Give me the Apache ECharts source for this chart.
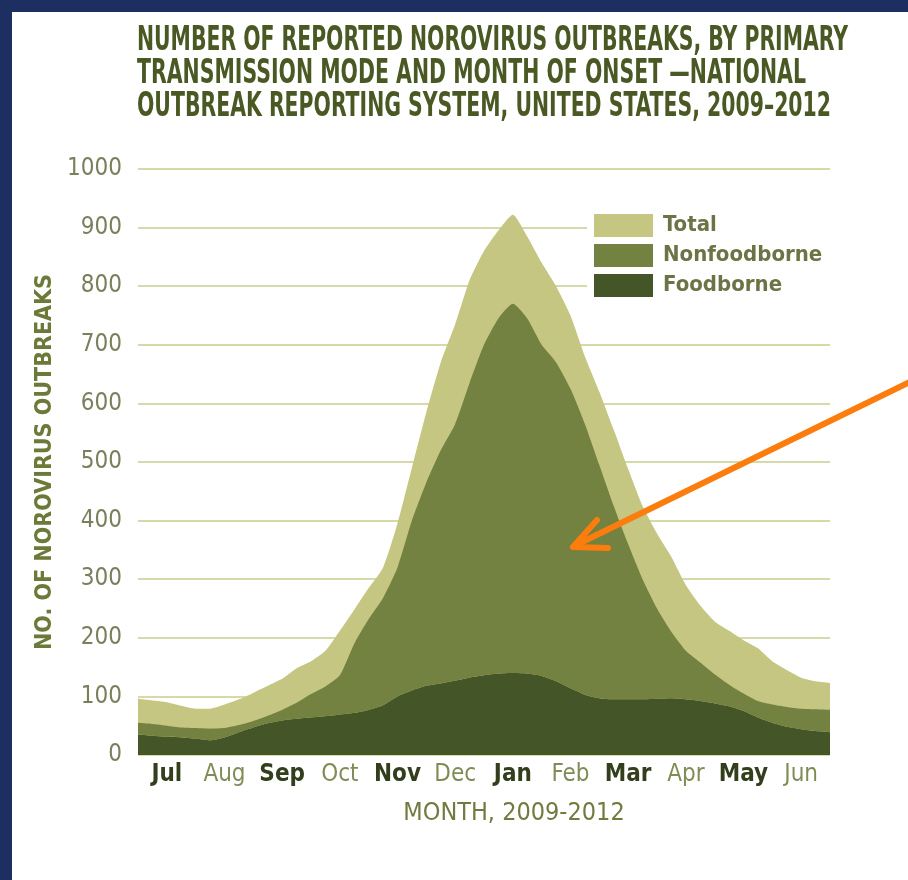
<!DOCTYPE html>
<html>
<head>
<meta charset="utf-8">
<script src="https://cdn.jsdelivr.net/npm/echarts@6/dist/echarts.min.js"></script>
<style>
  html, body { margin: 0; padding: 0; background: #ffffff; }
  #chart { width: 908px; height: 880px; }
</style>
</head>
<body>
<div id="chart"></div>
<script>
// Onset position in months from the start of July (roughly weekly steps)
const onsetPos = [
  0, 0.25, 0.5, 0.75, 1, 1.25, 1.5, 1.75, 2, 2.25, 2.5, 2.75,
  3, 3.25, 3.5, 3.75, 4, 4.25, 4.5, 4.75, 5, 5.25, 5.5, 5.75,
  6, 6.25, 6.5, 6.75, 7, 7.25, 7.5, 7.75, 8, 8.25, 8.5, 8.75,
  9, 9.25, 9.5, 9.75, 10, 10.25, 10.5, 10.75, 11, 11.25, 11.5, 11.75, 12
];

// All reported outbreaks
const totalOutbreaks = [
  96, 93, 90, 84, 79, 79, 86, 95, 106, 118, 130, 148,
  160, 178, 212, 248, 285, 320, 395, 490, 585, 670, 735, 810,
  860, 895, 922, 885, 840, 800, 750, 680, 620, 555, 488, 425,
  378, 338, 290, 255, 228, 212, 196, 182, 160, 145, 132, 126, 123
];

// Foodborne outbreaks (bottom layer)
const foodborneOutbreaks = [
  35, 33, 31, 30, 28, 25, 30, 39, 47, 54, 59, 62,
  64, 66, 69, 72, 77, 85, 100, 110, 118, 122, 127, 132,
  136, 139, 140, 139, 135, 126, 114, 103, 97, 95, 95, 95,
  96, 97, 95, 92, 88, 83, 75, 64, 55, 48, 44, 41, 39
];

// Nonfoodborne outbreaks (stacked on the foodborne layer)
const nonfoodborneOutbreaks = [
  20, 20, 19, 17, 18, 20, 16, 12, 11, 13, 18, 27,
  40, 51, 67, 118, 155, 183, 220, 290, 347, 398, 438, 503,
  564, 606, 630, 606, 565, 544, 511, 462, 398, 330, 265, 205,
  154, 113, 83, 66, 50, 37, 30, 28, 31, 34, 35, 37, 38
];

const monthLabels = ['Jul', 'Aug', 'Sep', 'Oct', 'Nov', 'Dec', 'Jan', 'Feb', 'Mar', 'Apr', 'May', 'Jun'];

const titleLines = [
  'NUMBER OF REPORTED NOROVIRUS OUTBREAKS, BY PRIMARY',
  'TRANSMISSION MODE AND MONTH OF ONSET \u2014NATIONAL',
  'OUTBREAK REPORTING SYSTEM, UNITED STATES, 2009\u20132012'
];

// pick the first condensed face that is installed
function hasFont(name) {
  const ctx = document.createElement('canvas').getContext('2d');
  const probe = 'NOROVIRUS outbreaks 2009 Wij';
  ctx.font = '40px monospace';
  const a = ctx.measureText(probe).width;
  ctx.font = '40px "' + name + '", monospace';
  const b = ctx.measureText(probe).width;
  return Math.abs(a - b) > 0.5;
}
const narrowCandidates = ['Liberation Sans Narrow', 'DejaVu Sans Condensed', 'Roboto Condensed', 'Arial Narrow'];
const NARROW = narrowCandidates.find(hasFont) || 'Liberation Sans';

function textWidth(text, font) {
  const ctx = document.createElement('canvas').getContext('2d');
  ctx.font = font;
  return ctx.measureText(text).width;
}

const COLORS = {
  total: '#c4c682',
  nonfood: '#738141',
  food: '#445628',
  grid: '#d6daa9',
  navy: '#1c2f60',
  title: '#4a5924',
  arrow: '#fb7d0e'
};

// title block, condensed horizontally to the column width
const titleFont = 'bold 34px "' + NARROW + '"';
const titleWidths = [711, 669, 694];
const titleCenters = [41, 74, 107];
const titleGraphics = titleLines.map((line, i) => ({
  type: 'text',
  x: 137,
  y: titleCenters[i],
  scaleX: titleWidths[i] / textWidth(line, titleFont),
  scaleY: 1,
  style: {
    text: line,
    font: titleFont,
    fill: COLORS.title,
    verticalAlign: 'middle',
    align: 'left'
  },
  z: 10
}));

const chart = echarts.init(document.getElementById('chart'), null, { renderer: 'canvas' });

chart.setOption({
  backgroundColor: '#ffffff',
  animation: false,
  grid: { left: 138, right: 78, top: 169, bottom: 125, containLabel: false },
  legend: {
    orient: 'vertical',
    left: 587,
    top: 207,
    padding: [7, 80, 8, 7],
    backgroundColor: '#ffffff',
    itemWidth: 59,
    itemHeight: 23,
    itemGap: 7,
    icon: 'rect',
    data: ['Total', 'Nonfoodborne', 'Foodborne'],
    textStyle: {
      fontFamily: NARROW,
      fontSize: 22,
      fontWeight: 'bold',
      color: '#6c7446',
      padding: [0, 0, 0, 5]
    }
  },
  xAxis: [
    {
      type: 'category',
      data: onsetPos.map(String),
      boundaryGap: false,
      show: false
    },
    {
      type: 'category',
      data: monthLabels,
      boundaryGap: true,
      position: 'bottom',
      axisLine: { show: false },
      axisTick: { show: false },
      splitLine: { show: false },
      axisLabel: {
        interval: 0,
        margin: 8,
        fontFamily: NARROW,
        fontSize: 24,
        formatter: (v, i) => (i % 2 === 0 ? '{b|' + v + '}' : '{r|' + v + '}'),
        rich: {
          b: { fontFamily: NARROW, fontSize: 24, fontWeight: 'bold', color: '#333e1d' },
          r: { fontFamily: NARROW, fontSize: 24, color: '#808c56' }
        }
      },
      name: 'MONTH, 2009-2012',
      nameLocation: 'middle',
      nameGap: 46,
      nameTextStyle: {
        fontFamily: NARROW,
        fontSize: 25,
        color: '#6f7b3f',
        padding: [0, 0, 0, 60]
      }
    }
  ],
  yAxis: {
    type: 'value',
    min: 0,
    max: 1000,
    interval: 100,
    axisLine: { show: false },
    axisTick: { show: false },
    splitLine: { lineStyle: { color: COLORS.grid, width: 2 } },
    axisLabel: {
      margin: 16,
      fontFamily: NARROW,
      fontSize: 24,
      color: '#7b7f5c',
      formatter: v => String(v)
    },
    name: 'NO. OF NOROVIRUS OUTBREAKS',
    nameLocation: 'middle',
    nameRotate: 90,
    nameGap: 80,
    nameTextStyle: {
      fontFamily: NARROW,
      fontSize: 23,
      fontWeight: 'bold',
      color: '#6b7a38'
    }
  },
  series: [
    {
      name: 'Total',
      type: 'line',
      xAxisIndex: 0,
      data: totalOutbreaks,
      showSymbol: false,
      smooth: 0.2,
      lineStyle: { width: 0 },
      itemStyle: { color: COLORS.total },
      areaStyle: { color: COLORS.total, opacity: 1 },
      z: 2
    },
    {
      name: 'Foodborne',
      type: 'line',
      xAxisIndex: 0,
      stack: 'mode',
      data: foodborneOutbreaks,
      showSymbol: false,
      smooth: 0.2,
      lineStyle: { width: 0 },
      itemStyle: { color: COLORS.food },
      areaStyle: { color: COLORS.food, opacity: 1 },
      z: 3
    },
    {
      name: 'Nonfoodborne',
      type: 'line',
      xAxisIndex: 0,
      stack: 'mode',
      data: nonfoodborneOutbreaks,
      showSymbol: false,
      smooth: 0.2,
      lineStyle: { width: 0 },
      itemStyle: { color: COLORS.nonfood },
      areaStyle: { color: COLORS.nonfood, opacity: 1 },
      z: 3
    }
  ],
  graphic: [
    // navy frame strips
    { type: 'rect', shape: { x: 0, y: 0, width: 908, height: 12 }, style: { fill: COLORS.navy }, z: 20 },
    { type: 'rect', shape: { x: 0, y: 0, width: 12, height: 880 }, style: { fill: COLORS.navy }, z: 20 },
    ...titleGraphics,
    // orange pointer into the nonfoodborne band
    {
      type: 'polyline',
      shape: { points: [[912, 381], [574, 546]] },
      style: { stroke: COLORS.arrow, lineWidth: 6, lineCap: 'round', fill: null },
      z: 30
    },
    {
      type: 'polyline',
      shape: { points: [[597, 520], [573, 547], [608, 548]] },
      style: { stroke: COLORS.arrow, lineWidth: 6, lineCap: 'round', lineJoin: 'round', fill: null },
      z: 30
    }
  ]
});
</script>
</body>
</html>
